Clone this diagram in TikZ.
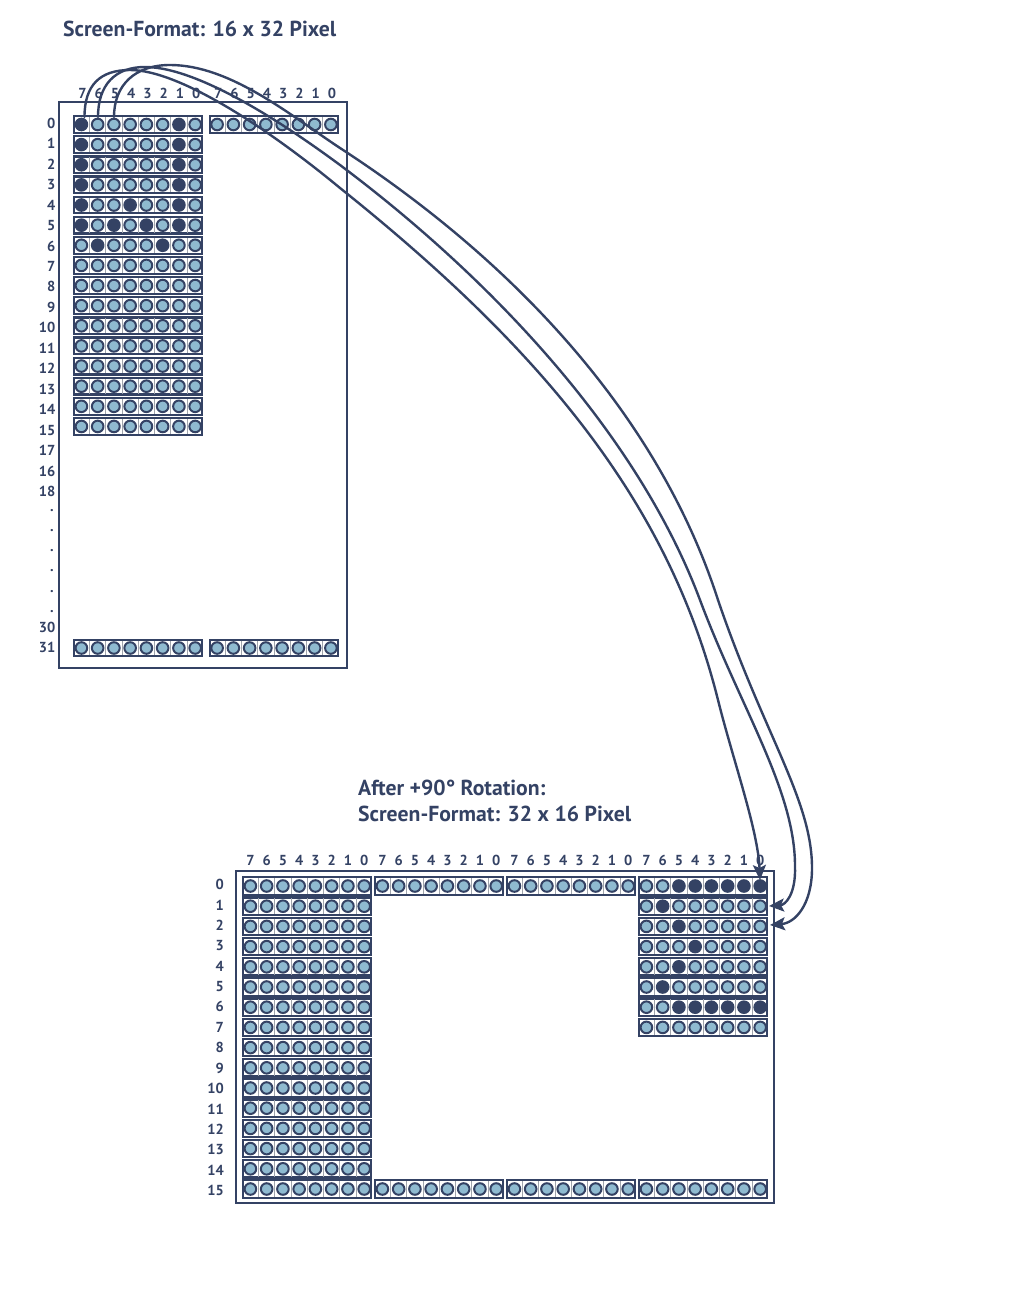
\documentclass[tikz,border=0pt]{standalone}
\usepackage{fontspec}
\setmainfont{PT Sans}
\usetikzlibrary{arrows.meta}
\definecolor{navy}{RGB}{52,66,100}
\definecolor{pixlight}{RGB}{143,186,208}
\definecolor{sepgray}{RGB}{160,164,172}

% #1 name, #2 x left, #3 y centre, #4 height, #5 bits (8, left to right)
\newcommand{\pixbyte}[5]{%
  \node[bytebox, minimum height=#4] (#1) at ({#2+65},{#3}) {};
  \foreach \i in {1,...,7}{\draw[cellsep] ({#2+16.25*\i},{#3-#4/2+1}) -- ({#2+16.25*\i},{#3+#4/2-1});}
  \foreach \i in {0,...,7}{%
    \pgfmathtruncatemacro\pb{{#5}[\i]}%
    \ifnum\pb=1 \draw[pixon] ({#2+8.125+16.25*\i},{#3}) circle (5.8);%
    \else \draw[pixoff] ({#2+8.125+16.25*\i},{#3}) circle (5.8);\fi
  }%
}

\begin{document}
\begin{tikzpicture}[x=1pt,y=-1pt,
  bytebox/.style={draw=navy, line width=2.2pt, fill=white, minimum width=128, inner sep=0pt, rectangle},
  cellsep/.style={draw=sepgray, line width=0.8pt},
  pixon/.style={draw=navy, fill=navy, line width=2pt},
  pixoff/.style={draw=navy, fill=pixlight, line width=2pt},
  frame/.style={draw=navy, line width=2pt, inner sep=0pt, rectangle},
  lbl/.style={font=\fontsize{14.5}{15}\selectfont\bfseries, text=navy, inner sep=0pt},
  ttl/.style={font=\fontsize{21.7}{24}\selectfont\bfseries, text=navy, inner sep=0pt},
  conn/.style={draw=navy, line width=2.4pt, line cap=round, -{Stealth[length=15pt,width=13pt,inset=3pt]}}]
\useasboundingbox (0,0) rectangle (1022,1300);

% titles
\node[ttl, anchor=base west] (title1) at (63,36.7) {Screen-Format: 16 x 32 Pixel};
\node[ttl, anchor=base west] (title2a) at (358,795.7) {After +90° Rotation:};
\node[ttl, anchor=base west] (title2b) at (358,821.7) {Screen-Format: 32 x 16 Pixel};

% frames
\node[frame, minimum width=288, minimum height=566] (topframe) at (203.3,385) {};
\node[frame, minimum width=538, minimum height=332] (botframe) at (504.7,1037) {};

% ---------- top screen ----------
\foreach \k in {0,1}{\foreach \i in {0,...,7}{%
  \pgfmathtruncatemacro\d{7-\i}%
  \node[lbl, anchor=base] (th\k\i) at ({73.3+135.7*\k+8.125+16.25*\i+1},98.8) {\d};}}
\foreach \r in {0,...,15}{\node[lbl, anchor=east] (tl\r) at (55.5,{123.3+20.45*\r}) {\r};}
\node[lbl, anchor=east] (tl17) at (55.5,450.7) {17};
\node[lbl, anchor=east] (tl16) at (55.5,471.2) {16};
\node[lbl, anchor=east] (tl18) at (55.5,491.7) {18};
\foreach \j in {0,...,5}{\node[lbl, anchor=base] (tdot\j) at (52,{511+20.3*\j}) {.};}
\node[lbl, anchor=east] (tl30) at (55.5,627) {30};
\node[lbl, anchor=east] (tl31) at (55.5,647.5) {31};

\pixbyte{tb0}{73.3}{124.5}{16.7}{1,0,0,0,0,0,1,0}
\pixbyte{tb0b}{209}{124.5}{16.7}{0,0,0,0,0,0,0,0}
\pixbyte{tb1}{73.3}{124.5+20.13*1}{16.7}{1,0,0,0,0,0,1,0}
\pixbyte{tb2}{73.3}{124.5+20.13*2}{16.7}{1,0,0,0,0,0,1,0}
\pixbyte{tb3}{73.3}{124.5+20.13*3}{16.7}{1,0,0,0,0,0,1,0}
\pixbyte{tb4}{73.3}{124.5+20.13*4}{16.7}{1,0,0,1,0,0,1,0}
\pixbyte{tb5}{73.3}{124.5+20.13*5}{16.7}{1,0,1,0,1,0,1,0}
\pixbyte{tb6}{73.3}{124.5+20.13*6}{16.7}{0,1,0,0,0,1,0,0}
\foreach \r in {7,...,15}{\pixbyte{tb\r}{73.3}{124.5+20.13*\r}{16.7}{0,0,0,0,0,0,0,0}}
\pixbyte{tb31}{73.3}{648}{16.7}{0,0,0,0,0,0,0,0}
\pixbyte{tb31b}{209}{648}{16.7}{0,0,0,0,0,0,0,0}

% ---------- bottom screen ----------
\foreach \k in {0,...,3}{\foreach \i in {0,...,7}{%
  \pgfmathtruncatemacro\d{7-\i}%
  \node[lbl, anchor=base] (bh\k\i) at ({242.3+132*\k+8.125+16.25*\i},865.5) {\d};}}
\foreach \r in {0,...,15}{\node[lbl, anchor=east] (bl\r) at (224,{884.5+20.4*\r}) {\r};}

\foreach \k in {0,1,2}{\pixbyte{bb0\k}{242.3+132*\k}{886}{17.5}{0,0,0,0,0,0,0,0}}
\pixbyte{bb03}{638.3}{886}{17.5}{0,0,1,1,1,1,1,1}
\foreach \r in {1,...,14}{\pixbyte{bb\r0}{242.3}{886+20.2*\r}{17.5}{0,0,0,0,0,0,0,0}}
\pixbyte{bb13}{638.3}{886+20.2*1}{17.5}{0,1,0,0,0,0,0,0}
\pixbyte{bb23}{638.3}{886+20.2*2}{17.5}{0,0,1,0,0,0,0,0}
\pixbyte{bb33}{638.3}{886+20.2*3}{17.5}{0,0,0,1,0,0,0,0}
\pixbyte{bb43}{638.3}{886+20.2*4}{17.5}{0,0,1,0,0,0,0,0}
\pixbyte{bb53}{638.3}{886+20.2*5}{17.5}{0,1,0,0,0,0,0,0}
\pixbyte{bb63}{638.3}{886+20.2*6}{17.5}{0,0,1,1,1,1,1,1}
\pixbyte{bb73}{638.3}{886+20.2*7}{17.5}{0,0,0,0,0,0,0,0}
\foreach \k in {0,...,3}{\pixbyte{bbF\k}{242.3+132*\k}{886+20.2*15}{17.5}{0,0,0,0,0,0,0,0}}

% ---------- connectors ----------
\coordinate (s7) at (84.5,117);
\coordinate (s6) at (98,117);
\coordinate (s5) at (114,117);
\coordinate (e7) at (760,880);
\coordinate (e6) at (769,906);
\coordinate (e5) at (770,925);

\draw[conn] (s7) .. controls (84.5,85) and (100,70) .. (130,70)
  .. controls (180,70) and (270,130) .. (340,188)
  .. controls (540,348) and (668,500) .. (718,700)
  .. controls (733,760) and (758,830) .. (e7);
\draw[conn] (s6) .. controls (98,85) and (115,67) .. (145,67)
  .. controls (200,67) and (290,128) .. (340,165)
  .. controls (500,285) and (640,440) .. (700,600)
  .. controls (740,707) and (795,790) .. (795,866)
  .. controls (796,895) and (785,905) .. (e6);
\draw[conn] (s5) .. controls (114,85) and (135,65) .. (170,65)
  .. controls (230,65) and (290,115) .. (340,148)
  .. controls (520,265) and (660,420) .. (718,600)
  .. controls (764,735) and (812,800) .. (812,868)
  .. controls (812,905) and (795,923) .. (e5);
\end{tikzpicture}
\end{document}
